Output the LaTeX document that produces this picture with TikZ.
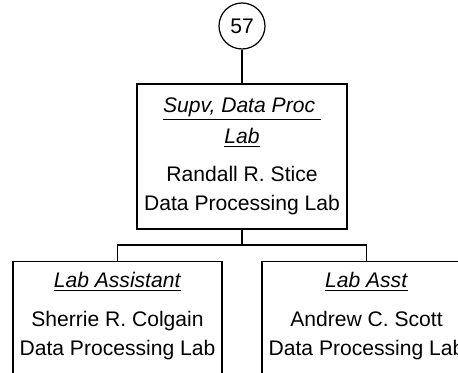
\documentclass[tikz,border=0pt]{standalone}
\usepackage{fontspec}
\setmainfont{Liberation Sans}
\usetikzlibrary{positioning}

\begin{document}
\begin{tikzpicture}[
            ring/.style={circle, draw=black, line width=0.7pt, minimum size=0.92cm, inner sep=0pt, font=\fontsize{12}{16.5}\selectfont},
            topbox/.style={rectangle, draw=black, line width=0.7pt, minimum width=4.2cm, minimum height=2.9cm, align=center, font=\fontsize{12}{16.5}\selectfont},
            subbox/.style={rectangle, draw=black, line width=0.7pt, minimum width=4.18cm, inner ysep=0.21cm, text depth=2.6cm, anchor=north, align=center, font=\fontsize{12}{16.5}\selectfont}
        ]
        \useasboundingbox (0,0) rectangle (9.16,-7.46);
        \clip (0,0) rectangle (9.16,-7.46);

        % Head of the branch
        \node[ring] (c57) at (4.84,-0.52) {57};
        \node[topbox] (supv) at (4.84,-3.13) {\underline{\textit{Supv, Data Proc\ }}\\[1pt] \underline{\textit{Lab}}\\[5.3pt] Randall R. Stice\\ Data Processing Lab};

        % Staff under the supervisor
        \node[subbox] (asst1) at (2.35,-5.22) {\underline{\textit{Lab Assistant}}\\[5.7pt] Sherrie R. Colgain\\ Data Processing Lab};
        \node[subbox] (asst2) at (7.33,-5.22) {\underline{\textit{Lab Asst}}\\[5.7pt] Andrew C. Scott\\ Data Processing Lab};

        \coordinate (fork) at (4.84,-4.9);
        \draw[line width=0.7pt] (c57) -- (supv);
        \draw[line width=0.7pt] (supv) -- (fork);
        \draw[line width=0.7pt] (fork) -| (asst1);
        \draw[line width=0.7pt] (fork) -| (asst2);
        \end{tikzpicture}
\end{document}
